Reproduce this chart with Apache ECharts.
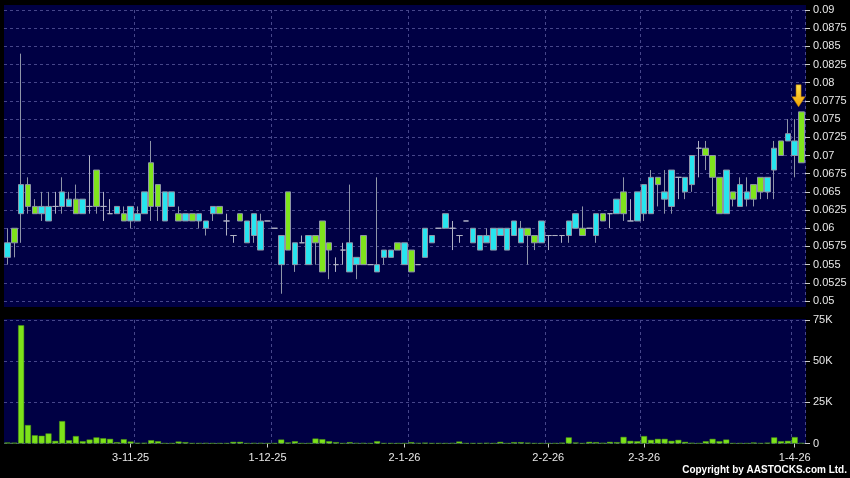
<!DOCTYPE html>
<html>
<head>
<meta charset="utf-8">
<script src="https://cdn.jsdelivr.net/npm/echarts@6/dist/echarts.min.js"></script>
<style>
html,body{margin:0;padding:0;background:#000;}
#chart{width:850px;height:478px;}
</style>
</head>
<body>
<div id="chart"></div>
<script>
// ---- data ----
const openPx = [0.058,0.058,0.066,0.063,0.062,0.063,0.063,0.063,0.065,0.064,0.062,0.064,0.063,0.063,0.063,0.062,0.063,0.061,0.063,0.062,
0.065,0.063,0.063,0.065,0.065,0.061,0.062,0.061,0.062,0.061,0.063,0.062,0.061,0.059,0.061,0.061,0.062,0.061,0.061,0.060,
0.059,0.057,0.058,0.058,0.059,0.058,0.054,0.057,0.055,0.057,0.058,0.056,0.055,0.055,0.055,0.057,0.057,0.057,0.058,0.054,
0.055,0.060,0.059,0.060,0.062,0.060,0.059,0.061,0.060,0.059,0.059,0.060,0.060,0.060,0.061,0.060,0.059,0.058,0.061,0.059,
0.059,0.059,0.061,0.062,0.059,0.060,0.062,0.061,0.062,0.064,0.062,0.061,0.065,0.066,0.067,0.066,0.065,0.068,0.067,0.067,
0.070,0.071,0.070,0.067,0.062,0.068,0.064,0.066,0.065,0.064,0.065,0.067,0.071,0.070,0.073,0.072,0.069];
const closePx = [0.056,0.060,0.062,0.066,0.063,0.062,0.061,0.063,0.063,0.063,0.064,0.062,0.063,0.068,0.063,0.062,0.062,0.062,0.061,0.061,
0.062,0.069,0.066,0.061,0.063,0.062,0.061,0.062,0.061,0.060,0.062,0.063,0.061,0.059,0.062,0.058,0.059,0.057,0.061,0.060,
0.055,0.065,0.055,0.058,0.055,0.059,0.061,0.058,0.055,0.057,0.054,0.055,0.059,0.055,0.054,0.056,0.056,0.058,0.055,0.057,
0.055,0.056,0.058,0.060,0.060,0.060,0.059,0.061,0.058,0.057,0.058,0.057,0.059,0.057,0.059,0.058,0.060,0.059,0.058,0.059,
0.059,0.059,0.059,0.060,0.060,0.060,0.059,0.062,0.062,0.062,0.065,0.061,0.061,0.062,0.062,0.067,0.064,0.063,0.067,0.065,
0.066,0.071,0.071,0.070,0.067,0.062,0.065,0.063,0.064,0.066,0.067,0.065,0.068,0.072,0.072,0.070,0.076];
const lowPx = [0.055,0.056,0.058,0.062,0.062,0.061,0.061,0.062,0.062,0.063,0.062,0.062,0.062,0.062,0.061,0.062,0.062,0.061,0.060,0.061,
0.062,0.061,0.061,0.061,0.063,0.061,0.061,0.061,0.060,0.059,0.061,0.062,0.059,0.058,0.061,0.058,0.058,0.057,0.061,0.060,
0.051,0.057,0.054,0.058,0.055,0.055,0.054,0.053,0.054,0.055,0.054,0.053,0.055,0.055,0.054,0.055,0.056,0.057,0.055,0.054,
0.055,0.056,0.058,0.060,0.060,0.057,0.058,0.061,0.058,0.057,0.058,0.057,0.059,0.057,0.059,0.058,0.055,0.057,0.058,0.057,
0.059,0.058,0.058,0.060,0.059,0.060,0.058,0.061,0.060,0.062,0.061,0.061,0.061,0.061,0.062,0.063,0.062,0.062,0.064,0.064,
0.065,0.067,0.068,0.063,0.062,0.062,0.063,0.063,0.063,0.063,0.064,0.064,0.064,0.070,0.072,0.067,0.069];
const highPx = [0.060,0.060,0.084,0.067,0.064,0.065,0.065,0.065,0.067,0.065,0.066,0.064,0.070,0.068,0.065,0.064,0.063,0.063,0.063,0.063,
0.065,0.072,0.066,0.065,0.065,0.063,0.062,0.062,0.062,0.061,0.063,0.063,0.062,0.059,0.062,0.061,0.062,0.062,0.061,0.060,
0.059,0.065,0.058,0.059,0.059,0.059,0.061,0.058,0.056,0.058,0.066,0.056,0.059,0.055,0.067,0.057,0.057,0.058,0.058,0.057,
0.055,0.060,0.059,0.060,0.062,0.061,0.059,0.061,0.060,0.059,0.060,0.060,0.060,0.060,0.061,0.061,0.060,0.059,0.061,0.059,
0.059,0.059,0.061,0.062,0.063,0.060,0.062,0.062,0.062,0.064,0.067,0.064,0.065,0.066,0.068,0.067,0.068,0.068,0.067,0.067,
0.070,0.072,0.072,0.070,0.067,0.068,0.065,0.067,0.067,0.066,0.067,0.067,0.072,0.072,0.075,0.075,0.076];
const volume = [600,500,71800,11200,5000,4700,6100,1600,13600,2000,4500,1400,2400,3700,3200,2800,800,2600,1200,400,
400,2000,1400,200,200,1200,800,200,200,300,200,200,200,1000,1000,200,300,300,200,200,
2400,600,1400,200,200,3000,2600,1400,800,200,800,300,300,200,1400,200,200,200,200,800,
300,500,200,200,200,300,1200,200,200,200,400,200,1000,200,800,800,500,200,200,200,
200,500,3700,600,200,1000,800,400,1000,800,4000,1600,1400,4500,2200,2800,2800,1600,2200,1000,
400,200,1400,2800,1400,2400,200,200,200,600,200,500,3700,1400,1600,3900,300];
const dateTickIndex = [18, 38, 58, 79, 93, 115];
const dateTickLabel = ['3-11-25', '1-12-25', '2-1-26', '2-2-26', '2-3-26', '1-4-26'];
const dateGridIndex = [19, 39, 59, 79, 93, 115];
const volTickLabel = {0: '0', 25000: '25K', 50000: '50K', 75000: '75K'};

// ---- build ----
const days = openPx.map((_, i) => 'd' + i);
const candles = openPx.map((o, i) => [o, closePx[i], lowPx[i], highPx[i]]);
const last = days.length - 1;

const NAVY = '#000044';
const GRIDC = '#46468a';
const TXT = '#e8e8e8';
const FONT = 'Liberation Sans';
const isTick = idx => dateTickIndex.indexOf(idx) >= 0;
const isSplit = idx => dateGridIndex.indexOf(idx) >= 0;

const chart = echarts.init(document.getElementById('chart'), null, {renderer: 'canvas'});
chart.setOption({
  backgroundColor: '#000000',
  animation: false,
  graphic: [
    {type: 'rect', z: -10, shape: {x: 4, y: 5, width: 802, height: 302}, style: {fill: NAVY}},
    {type: 'rect', z: -10, shape: {x: 4, y: 319, width: 802, height: 125}, style: {fill: NAVY}},
    {type: 'text', right: 3, top: 465, style: {text: 'Copyright by AASTOCKS.com Ltd.', fill: '#ffffff', font: 'bold 10px "Liberation Sans"'}}
  ],
  grid: [
    {left: 4, right: 45, top: 10, height: 291, outerBoundsMode: 'none', containLabel: false},
    {left: 4, right: 45, top: 320, height: 123.5, outerBoundsMode: 'none', containLabel: false}
  ],
  xAxis: [
    {
      type: 'category', gridIndex: 0, data: days, boundaryGap: true,
      axisLine: {show: false}, axisTick: {show: false}, axisLabel: {show: false},
      splitLine: {show: true, interval: isSplit, lineStyle: {color: GRIDC, type: [3, 3], width: 1}}
    },
    {
      type: 'category', gridIndex: 1, data: days, boundaryGap: true,
      axisLine: {show: false},
      axisTick: {show: true, alignWithLabel: true, interval: isTick, length: 4, lineStyle: {color: '#cccccc'}},
      axisLabel: {
        show: true, interval: isTick, margin: 9, color: TXT, fontFamily: FONT, fontSize: 11,
        formatter: (v, idx) => { const k = dateTickIndex.indexOf(idx); return k >= 0 ? dateTickLabel[k] : ''; }
      },
      splitLine: {show: true, interval: isSplit, lineStyle: {color: GRIDC, type: [3, 3], width: 1}}
    }
  ],
  yAxis: [
    {
      type: 'value', gridIndex: 0, position: 'right', min: 0.05, max: 0.09, interval: 0.0025, scale: true,
      axisLine: {show: false},
      axisTick: {show: true, length: 5, lineStyle: {color: '#cccccc'}},
      axisLabel: {color: TXT, fontFamily: FONT, fontSize: 11, margin: 8},
      splitLine: {show: true, lineStyle: {color: GRIDC, type: [3, 3], width: 1}}
    },
    {
      type: 'value', gridIndex: 1, position: 'right', min: 0, max: 75000, interval: 25000,
      axisLine: {show: false},
      axisTick: {show: true, length: 5, lineStyle: {color: '#cccccc'}},
      axisLabel: {color: TXT, fontFamily: FONT, fontSize: 11, margin: 8,
        formatter: v => volTickLabel[v] !== undefined ? volTickLabel[v] : ''},
      splitLine: {show: true, lineStyle: {color: GRIDC, type: [3, 3], width: 1}}
    }
  ],
  series: [
    {
      type: 'candlestick', xAxisIndex: 0, yAxisIndex: 0, data: candles, barWidth: 6,
      itemStyle: {
        color: '#7fe51c', color0: '#27e4ef',
        borderColor: '#8f95a8', borderColor0: '#8f95a8', borderColorDoji: '#b0b2c4', borderWidth: 1
      },
      markPoint: {
        silent: true,
        label: {show: false},
        data: [{
          coord: [days[last], highPx[last]],
          symbol: 'path://M4,0 L9,0 L9,12 L13,12 L6.5,22 L0,12 L4,12 Z',
          symbolSize: [13, 22], symbolOffset: [-3, -16],
          itemStyle: {
            color: new echarts.graphic.LinearGradient(0, 0, 0, 1, [
              {offset: 0, color: '#ffe04a'}, {offset: 1, color: '#f2a200'}
            ]),
            borderColor: '#c88400', borderWidth: 0.5
          }
        }]
      }
    },
    {
      type: 'bar', xAxisIndex: 1, yAxisIndex: 1, data: volume, barWidth: 6,
      itemStyle: {color: '#7de21a', borderColor: '#4f9a12', borderWidth: 0.5}
    }
  ]
});
</script>
</body>
</html>
